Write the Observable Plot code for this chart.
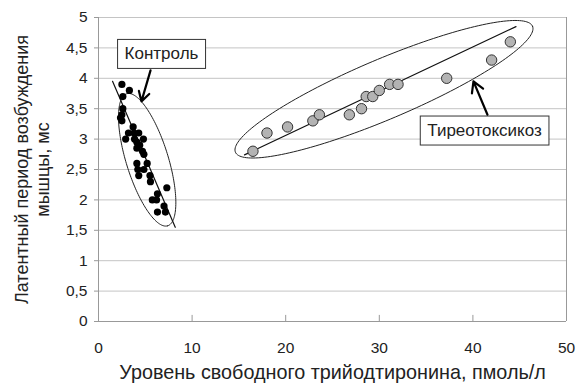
<!DOCTYPE html>
<html><head><meta charset="utf-8">
<script src="https://cdn.jsdelivr.net/npm/d3@7"></script>
<script src="https://cdn.jsdelivr.net/npm/@observablehq/plot@0.6"></script>
<style>
body{margin:0;background:#fff}
svg{font-family:"Liberation Sans",Arial,sans-serif}
</style>
</head><body><div id="chart"></div>
<script>
// Control group (black dots)
const controlX = [2.5, 3.3, 2.6, 2.6, 2.5, 2.35, 2.5, 3.7, 3.2, 3.8, 4.3, 2.9, 3.85, 4.8, 4.1, 4.4, 4.1, 4.7, 4.85, 4.1, 5.2, 4.2, 4.85, 4.3, 5.5, 5.55, 7.3, 6.3, 5.75, 6.2, 7.0, 6.3, 7.15];
const controlY = [3.9, 3.8, 3.7, 3.5, 3.4, 3.35, 3.3, 3.2, 3.1, 3.1, 3.1, 3.0, 3.0, 3.0, 2.95, 2.9, 2.85, 2.8, 2.75, 2.6, 2.6, 2.5, 2.5, 2.4, 2.4, 2.3, 2.2, 2.1, 2.0, 2.0, 1.9, 1.8, 1.8];
// Thyrotoxicosis group (grey dots)
const thyroX = [16.5, 18.0, 20.2, 22.9, 23.6, 26.8, 28.1, 28.6, 29.3, 30.0, 31.1, 32.0, 37.2, 42.0, 44.0];
const thyroY = [2.8, 3.1, 3.2, 3.3, 3.4, 3.4, 3.5, 3.7, 3.7, 3.8, 3.9, 3.9, 4.0, 4.3, 4.6];
// Trend lines (end points)
const controlTrendX = [1.5, 8.2];
const controlTrendY = [3.95, 1.55];
const thyroTrendX = [15.6, 44.6];
const thyroTrendY = [2.74, 4.85];
// Ticks
const xTicks = [0, 10, 20, 30, 40, 50];
const yTicks = [0, 0.5, 1, 1.5, 2, 2.5, 3, 3.5, 4, 4.5, 5];
// Texts
const xLabel = "Уровень свободного трийодтиронина, пмоль/л";
const yLabel = "Латентный период возбуждения\nмышцы, мс";
const groupNames = ["Контроль", "Тиреотоксикоз"];

// Annotations (data units)
const labelX = [6.73, 41.24];
const labelY = [4.40, 3.14];
const arrowFrom = [[5.56, 4.13], [41.56, 3.40]];
const arrowTo = [[4.59, 3.62], [40.06, 3.95]];
const ellipseCenter = [[5.2, 2.66], [30.5, 3.82]];
const ellipseMajor = [[2.19, -1.086], [15.87, 1.036]];
const ellipseMinor = [[2.142, 0.1026], [1.253, -0.454]];

const control = controlX.map((x, i) => ({x, y: controlY[i]}));
const thyro = thyroX.map((x, i) => ({x, y: thyroY[i]}));
const trends = [
  ...controlTrendX.map((x, i) => ({g: "c", x, y: controlTrendY[i]})),
  ...thyroTrendX.map((x, i) => ({g: "t", x, y: thyroTrendY[i]}))
];
const ellipses = [];
ellipseCenter.forEach((c, k) => {
  const u = ellipseMajor[k], v = ellipseMinor[k];
  for (let i = 0; i <= 180; i++) {
    const t = (i / 180) * 2 * Math.PI;
    ellipses.push({g: k, x: c[0] + u[0] * Math.cos(t) + v[0] * Math.sin(t), y: c[1] + u[1] * Math.cos(t) + v[1] * Math.sin(t)});
  }
});
const labels = groupNames.map((name, i) => ({name, x: labelX[i], y: labelY[i]}));
const arrows = arrowFrom.map((f, i) => ({x1: f[0], y1: f[1], x2: arrowTo[i][0], y2: arrowTo[i][1]}));

const fmt = d => String(d).replace(".", ",");

const chart = Plot.plot({
  width: 583, height: 387,
  marginLeft: 98, marginRight: 17, marginTop: 17, marginBottom: 66,
  style: {fontFamily: '"Liberation Sans", Arial, sans-serif', color: "#222", background: "#fff"},
  x: {domain: [0, 50]},
  y: {domain: [0, 5]},
  marks: [
    Plot.ruleY(yTicks, {stroke: "#c4c4c4", strokeWidth: 1}),
    Plot.ruleX([0, 50], {stroke: "#999"}),
    Plot.ruleY([0], {stroke: "#999"}),
    Plot.ruleX(xTicks.slice(1, -1), {y1: 0, y2: 0.1, stroke: "#999"}),
    Plot.axisX(xTicks, {tickSize: 0, tickPadding: 20, fontSize: 15.5, label: null, fill: "#222"}),
    Plot.axisY(yTicks, {tickSize: 4, tickPadding: 7, tickFormat: fmt, fontSize: 15.5, label: null, stroke: "#999", fill: "#222"}),
    Plot.text([xLabel], {frameAnchor: "bottom", dy: 51, fontSize: 19.8, fill: "#222", lineAnchor: "middle", textAnchor: "middle"}),
    Plot.text([yLabel], {frameAnchor: "left", rotate: -90, dx: -67, fontSize: 18, fill: "#222", lineHeight: 1.2, textAnchor: "middle", lineAnchor: "middle"}),
    Plot.line(trends, {x: "x", y: "y", z: "g", stroke: "#111", strokeWidth: 1.2}),
    Plot.line(ellipses, {x: "x", y: "y", z: "g", stroke: "#222", strokeWidth: 1}),
    Plot.dot(control, {x: "x", y: "y", r: 3.6, fill: "#000", stroke: "none"}),
    Plot.dot(thyro, {x: "x", y: "y", r: 5.2, fill: "#b3b3b3", stroke: "#333", strokeWidth: 1}),
    Plot.arrow(arrows, {x1: "x1", y1: "y1", x2: "x2", y2: "y2", stroke: "#000", strokeWidth: 2.2, headLength: 9}),
    Plot.text(labels, {x: "x", y: "y", text: "name", fontSize: 17, fill: "#222"})
  ]
});
document.getElementById("chart").append(chart);

// draw boxes behind the group labels
const svg = chart.tagName.toLowerCase() === "svg" ? chart : chart.querySelector("svg");
svg.querySelectorAll("text").forEach(t => {
  if (groupNames.includes(t.textContent)) {
    const b = t.getBBox();
    const padX = 7, padY = 5;
    const rect = document.createElementNS("http://www.w3.org/2000/svg", "rect");
    rect.setAttribute("x", b.x - padX);
    rect.setAttribute("y", b.y - padY);
    rect.setAttribute("width", b.width + 2 * padX);
    rect.setAttribute("height", b.height + 2 * padY);
    rect.setAttribute("fill", "#fff");
    rect.setAttribute("stroke", "#333");
    rect.setAttribute("stroke-width", "1");
    if (t.getAttribute("transform")) rect.setAttribute("transform", t.getAttribute("transform"));
    t.parentNode.insertBefore(rect, t);
  }
});
</script>
</body></html>
